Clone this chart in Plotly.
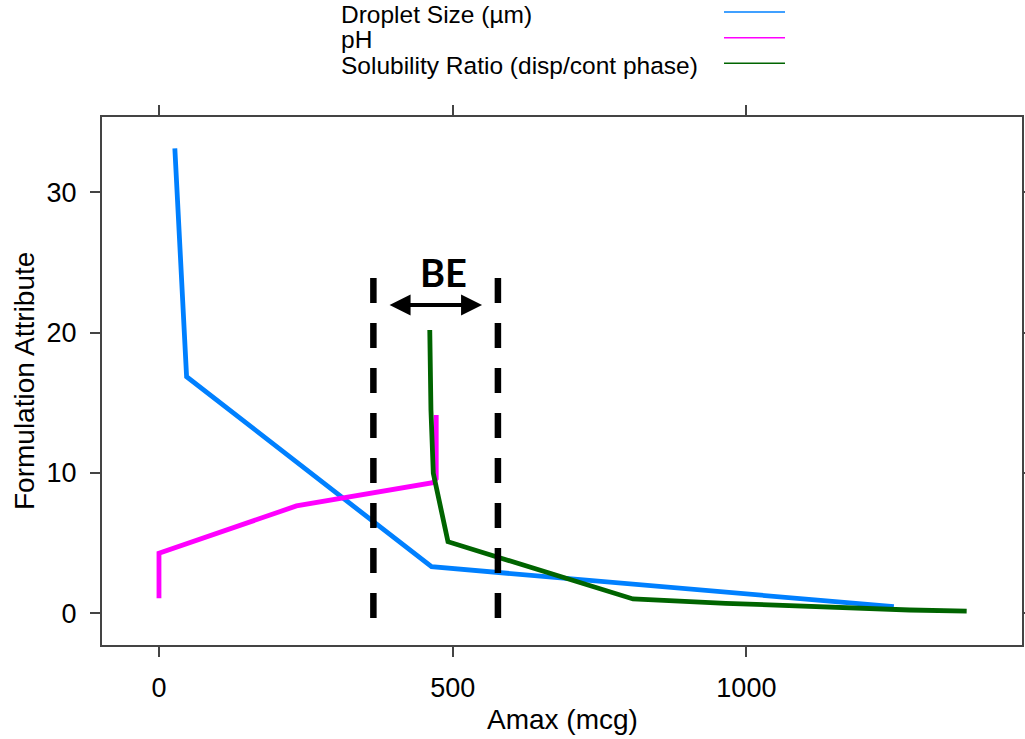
import plotly.graph_objects as go

# ---- data ----
amax_droplet = [27, 47, 464, 802, 965, 1251]
droplet_size = [33.14, 16.86, 3.32, 2.13, 1.53, 0.47]

amax_ph = [0, 0, 234, 466, 472, 472]
ph = [1.07, 4.28, 7.65, 9.31, 9.6, 14.13]

amax_sol = [461, 463, 467, 492, 807, 965, 1278, 1375]
solubility = [20.19, 14.49, 9.98, 5.10, 1.02, 0.71, 0.235, 0.16]

series_names = ["Droplet Size (µm)", "pH", "Solubility Ratio (disp/cont phase)"]
series_colors = ["#0080ff", "#ff00ff", "#006400"]

be_bounds = [365, 577]        # Amax bounds of the BE window
be_span = [-0.33, 23.9]       # vertical extent of the BE markers
be_arrow = [390, 550]
be_arrow_y = 21.97
be_label = "BE"

x_ticks = [0, 500, 1000]
y_ticks = [0, 10, 20, 30]
x_range = [-97.0, 1469.2]
y_range = [-2.26, 35.37]

# ---- layout geometry (pixels) ----
W, H = 1025, 739
ML, MR, MT, MB = 102, 3, 117, 94
PW, PH = W - ML - MR, H - MT - MB


def px_x(px):
    return (px - ML) / PW


def px_y(py):
    return (H - MB - py) / PH


FONT = "Liberation Sans, Arial, sans-serif"

fig = go.Figure()

xs = [amax_droplet, amax_ph, amax_sol]
ys = [droplet_size, ph, solubility]
for name, col, x, y in zip(series_names, series_colors, xs, ys):
    fig.add_trace(go.Scatter(x=x, y=y, mode="lines", name=name,
                             line=dict(color=col, width=4.8),
                             showlegend=False))

for b in be_bounds:
    fig.add_trace(go.Scatter(x=[b, b], y=be_span, mode="lines",
                             line=dict(color="black", width=6.5, dash="25px,20px"),
                             showlegend=False, hoverinfo="skip"))

fig.add_annotation(x=be_arrow[1], y=be_arrow_y, ax=be_arrow[0], ay=be_arrow_y,
                   xref="x", yref="y", axref="x", ayref="y", text="",
                   showarrow=True, arrowhead=2, startarrowhead=2,
                   arrowside="end+start", arrowwidth=4, arrowsize=1.05,
                   startarrowsize=1.05, arrowcolor="black")
fig.add_annotation(x=sum(be_arrow) / 2 + 15, y=24.35, xref="x", yref="y",
                   text="<b>" + be_label + "</b>", showarrow=False,
                   font=dict(family="Lato, Open Sans, sans-serif", size=38, color="black"))

# legend (lattice-style key: text left, lines right)
legend_y = [12, 37.7, 63.3]
for name, col, ly in zip(series_names, series_colors, legend_y):
    fig.add_shape(type="line", xref="paper", yref="paper",
                  x0=px_x(724), x1=px_x(785), y0=px_y(ly), y1=px_y(ly),
                  line=dict(color=col, width=1.5))
    fig.add_annotation(xref="paper", yref="paper", x=px_x(339), y=px_y(ly + 2),
                       xanchor="left", yanchor="middle", text=name, showarrow=False,
                       font=dict(family=FONT, size=24.5, color="black"))

# axis titles
fig.add_annotation(xref="paper", yref="paper", x=px_x(562), y=px_y(719),
                   text="Amax (mcg)", showarrow=False, xanchor="center", yanchor="middle",
                   font=dict(family=FONT, size=28, color="black"))
fig.add_annotation(xref="paper", yref="paper", x=px_x(24), y=0.5, textangle=-90,
                   text="Formulation Attribute", showarrow=False,
                   xanchor="center", yanchor="middle",
                   font=dict(family=FONT, size=28, color="black"))

axis_common = dict(showgrid=False, zeroline=False, showline=True, linecolor="#444444",
                   linewidth=2, mirror="ticks", ticks="outside", ticklen=10,
                   tickcolor="#444444", tickwidth=1.5,
                   tickfont=dict(family=FONT, size=27, color="black"))

fig.update_layout(
    width=W, height=H,
    margin=dict(l=ML, r=MR, t=MT, b=MB, autoexpand=False),
    paper_bgcolor="white", plot_bgcolor="white",
    xaxis=dict(range=x_range, tickmode="array", tickvals=x_ticks,
               ticktext=[str(v) for v in x_ticks], ticklabelstandoff=8, **axis_common),
    yaxis=dict(range=y_range, tickmode="array", tickvals=y_ticks,
               ticktext=[str(v) for v in y_ticks], ticklabelstandoff=8, **axis_common),
)

fig.write_html("out.html",
               config={"displayModeBar": False},
               post_script="document.body.style.margin='0';"
                           "document.body.style.overflow='hidden';")
